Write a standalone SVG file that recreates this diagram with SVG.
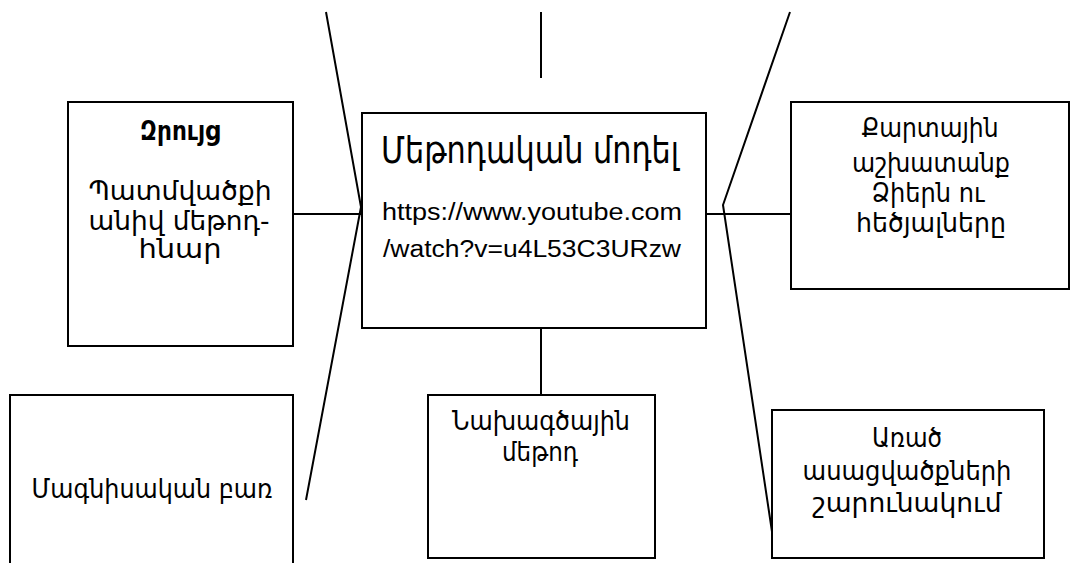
<svg xmlns="http://www.w3.org/2000/svg" width="1072" height="563" viewBox="0 0 1072 563">
<style>
.box{fill:#fff;stroke:#000;stroke-width:2}
.ln{fill:none;stroke:#000;stroke-width:2}
.arm{font-family:"DejaVu Sans","Noto Sans",sans-serif;font-size:27px;fill:#000;text-anchor:middle}
.title{font-size:38px}
.bold{font-weight:bold}
.lat{font-family:"Liberation Sans",Arial,sans-serif;font-size:23px;fill:#000;text-anchor:middle}
</style>
<rect width="1072" height="563" fill="#fff"/>
<g id="connectors">
<polyline class="ln" points="326,12 361,207 306,500"/>
<polyline class="ln" points="790,12 723,205 774,545"/>
<line class="ln" x1="541" y1="12" x2="541" y2="78"/>
<line class="ln" x1="293" y1="214" x2="362" y2="214"/>
<line class="ln" x1="706" y1="214" x2="791" y2="214"/>
<line class="ln" x1="541" y1="328" x2="541" y2="395"/>
</g>
<g id="node-zruyc">
<rect class="box" x="68" y="102" width="225" height="244"/>
<text class="arm bold" x="180" y="140" textLength="80" lengthAdjust="spacingAndGlyphs">Զրույց</text>
<text class="arm" x="180" y="200" textLength="183" lengthAdjust="spacingAndGlyphs">Պատմվածքի</text>
<text class="arm" x="179" y="230" textLength="181" lengthAdjust="spacingAndGlyphs">անիվ մեթոդ-</text>
<text class="arm" x="180" y="258" textLength="83" lengthAdjust="spacingAndGlyphs">հնար</text>
</g>
<g id="node-center">
<rect class="box" x="362" y="113" width="344" height="215"/>
<text class="arm title" x="530" y="163" textLength="298" lengthAdjust="spacingAndGlyphs">Մեթոդական մոդել</text>
<text class="lat" x="532" y="220" textLength="300" lengthAdjust="spacingAndGlyphs">https://www.youtube.com</text>
<text class="lat" x="532" y="257" textLength="298" lengthAdjust="spacingAndGlyphs">/watch?v=u4L53C3URzw</text>
</g>
<g id="node-right">
<rect class="box" x="791" y="102" width="278" height="187"/>
<text class="arm" x="930" y="137" textLength="137" lengthAdjust="spacingAndGlyphs">Քարտային</text>
<text class="arm" x="931" y="172" textLength="158" lengthAdjust="spacingAndGlyphs">աշխատանք</text>
<text class="arm" x="928" y="202" textLength="113" lengthAdjust="spacingAndGlyphs">Ձիերն ու</text>
<text class="arm" x="931" y="232" textLength="150" lengthAdjust="spacingAndGlyphs">հեծյալները</text>
</g>
<g id="node-magn">
<path class="box" d="M10,570 V395 H293 V570"/>
<text class="arm" x="152" y="498" textLength="241" lengthAdjust="spacingAndGlyphs">Մագնիսական բառ</text>
</g>
<g id="node-nakh">
<rect class="box" x="428" y="395" width="227" height="163"/>
<text class="arm" x="541" y="430" textLength="178" lengthAdjust="spacingAndGlyphs">Նախագծային</text>
<text class="arm" x="540" y="461" textLength="76" lengthAdjust="spacingAndGlyphs">մեթոդ</text>
</g>
<g id="node-arats">
<rect class="box" x="772" y="410" width="272" height="148"/>
<text class="arm" x="907" y="447" textLength="70" lengthAdjust="spacingAndGlyphs">Առած</text>
<text class="arm" x="907" y="480" textLength="209" lengthAdjust="spacingAndGlyphs">ասացվածքների</text>
<text class="arm" x="907" y="512" textLength="189" lengthAdjust="spacingAndGlyphs">շարունակում</text>
</g>
</svg>
